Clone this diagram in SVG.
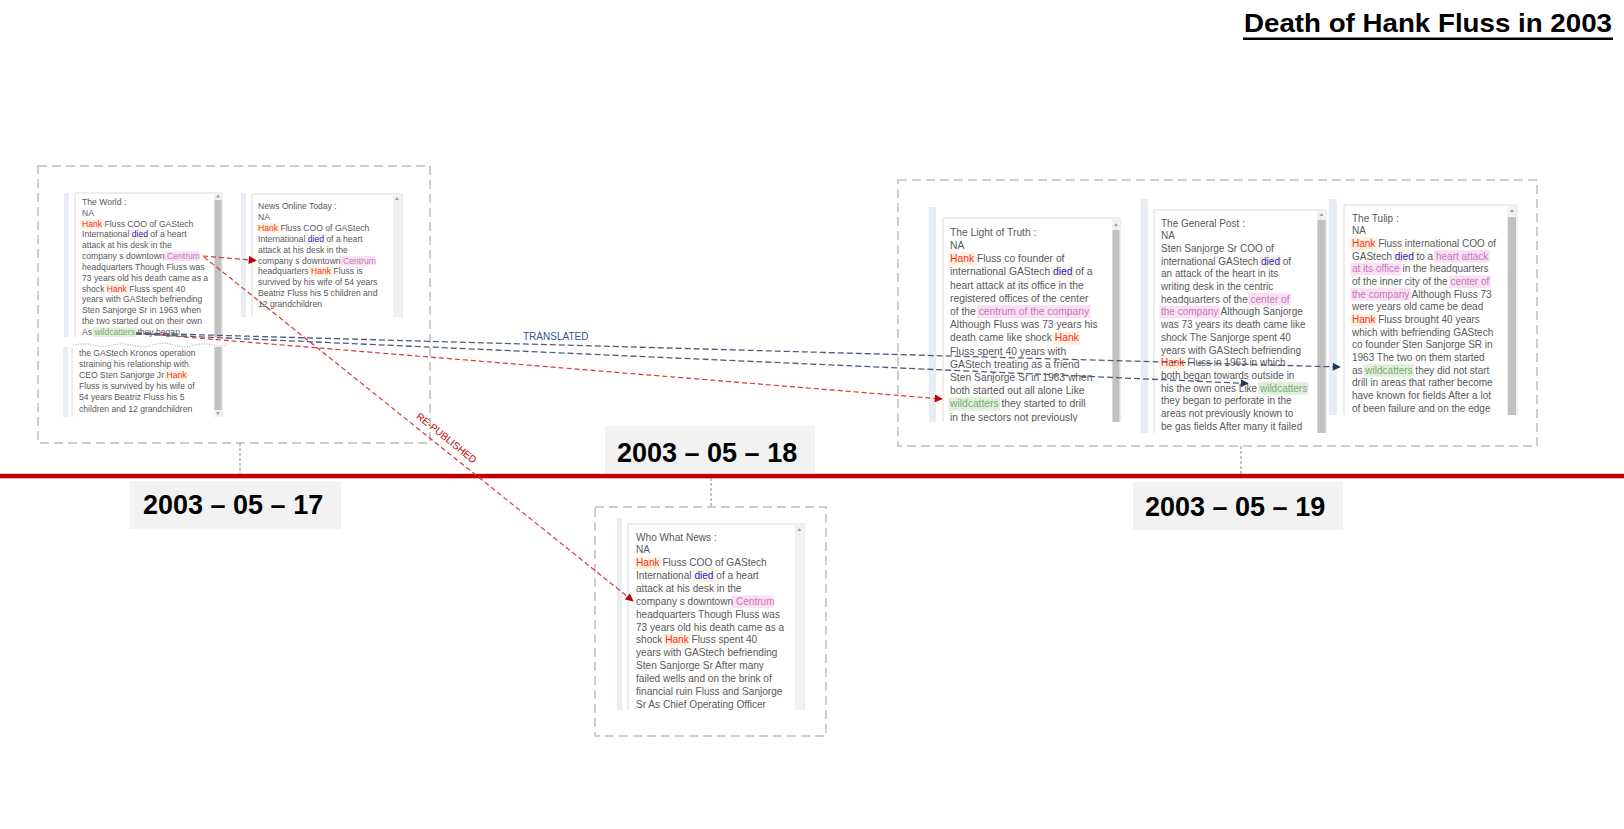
<svg xmlns="http://www.w3.org/2000/svg" width="1624" height="829" viewBox="0 0 1624 829">
<style>
.s{font-family:"Liberation Sans",Arial,sans-serif;fill:#595959}
.f8{font-size:8.6px}
.f10{font-size:10px}
.f101{font-size:10.1px}
.f103{font-size:10.3px}
.hk{fill:#ff2b1c}
.dd{fill:#2323e8}
.ce{fill:#c27cb6}
.wc{fill:#7caa74}
.bh{fill:#fdf2dc}
.bc{fill:#fbdff5}
.bw{fill:#e0efda}
.bar{fill:#e8edf4}
.pan{fill:#fff;stroke:#dadada;stroke-width:1}
.trk{fill:#f1f1f1}
.thm{fill:#c1c1c1}
.arw{fill:#a0a0a0}
.grp{fill:none;stroke:#bfbfbf;stroke-width:1.5;stroke-dasharray:9 5}
.stem{stroke:#8c8c8c;stroke-width:1;stroke-dasharray:3 2}
.dbox{fill:#f2f2f2}
.date{font-family:"Liberation Sans",Arial,sans-serif;font-weight:bold;font-size:27px;fill:#000}
.cr{fill:none;stroke:#d43a3a;stroke-width:1.2;stroke-dasharray:5 3}
.cb{fill:none;stroke:#4e5d7a;stroke-width:1.3;stroke-dasharray:6 3}
</style>
<defs>
<marker id="arR" viewBox="0 0 10 10" refX="9" refY="5" markerWidth="10" markerHeight="8" markerUnits="userSpaceOnUse" orient="auto"><path d="M0,0 L10,5 L0,10 z" fill="#c00000"/></marker>
<marker id="arB" viewBox="0 0 10 10" refX="9" refY="5" markerWidth="10" markerHeight="8" markerUnits="userSpaceOnUse" orient="auto"><path d="M0,0 L10,5 L0,10 z" fill="#1f3864"/></marker>
<clipPath id="cW1"><rect x="75" y="193" width="139" height="144"/></clipPath>
<clipPath id="cW2"><rect x="72" y="347" width="142" height="70"/></clipPath>
<clipPath id="cN"><rect x="252" y="194" width="141" height="123"/></clipPath>
<clipPath id="cM"><rect x="628" y="524" width="167" height="186"/></clipPath>
<clipPath id="cL"><rect x="943" y="218" width="169" height="204"/></clipPath>
<clipPath id="cG"><rect x="1154" y="210" width="163" height="223"/></clipPath>
<clipPath id="cT"><rect x="1344" y="205" width="163" height="210"/></clipPath>
</defs>
<rect width="1624" height="829" fill="#fff"/>

<g id="title">
<text x="1244" y="32" font-family="'Liberation Sans',Arial,sans-serif" font-weight="bold" font-size="26" fill="#000" textLength="368" lengthAdjust="spacingAndGlyphs">Death of Hank Fluss in 2003</text>
<rect x="1243" y="37.5" width="370" height="2.5" fill="#000"/>
</g>

<g id="group-frames">
<rect class="grp" x="38" y="166" width="392" height="277"/>
<rect class="grp" x="595" y="507" width="231" height="229"/>
<rect class="grp" x="898" y="180" width="639" height="266"/>
<line class="stem" x1="240" y1="443" x2="240" y2="474"/>
<line class="stem" x1="711" y1="478" x2="711" y2="507"/>
<line class="stem" x1="1241" y1="446" x2="1241" y2="474"/>
</g>

<g id="timeline">
<rect x="0" y="473.8" width="1624" height="4.5" fill="#c00000"/>
</g>

<g id="date-2003-05-17">
<rect class="dbox" x="130" y="481" width="211" height="48"/>
<text class="date" x="143" y="514">2003 – 05 – 17</text>
</g>
<g id="date-2003-05-18">
<rect class="dbox" x="605" y="426" width="210" height="47"/>
<text class="date" x="617" y="461.5">2003 – 05 – 18</text>
</g>
<g id="date-2003-05-19">
<rect class="dbox" x="1133" y="482" width="210" height="48"/>
<text class="date" x="1145" y="515.5">2003 – 05 – 19</text>
</g>

<g id="the-world">
<rect class="bar" x="64" y="193" width="5" height="144"/>
<path class="pan" d="M75,337 V193 H222 V337"/>
<rect class="trk" x="214" y="193" width="8" height="144"/>
<rect class="thm" x="214.5" y="200" width="7" height="137"/>
<path class="arw" d="M216,197.5 L218,194.5 L220,197.5 z"/>
<g clip-path="url(#cW1)">
<rect class="bh" x="80.5" y="219.2" width="23" height="9.5"/>
<rect class="bh" x="130.2" y="230" width="19.3" height="9.5"/>
<rect class="bc" x="163.2" y="251.6" width="36" height="9.5"/>
<rect class="bh" x="105.4" y="284.1" width="23" height="9.5"/>
<rect class="bw" x="92.9" y="327.5" width="43.6" height="9.5"/>
<g class="s f8">
<text x="82" y="205">The World :</text>
<text x="82" y="215.83">NA</text>
<text x="82" y="226.66"><tspan class="hk">Hank</tspan> Fluss COO of GAStech</text>
<text x="82" y="237.49">International <tspan class="dd">died</tspan> of a heart</text>
<text x="82" y="248.32">attack at his desk in the</text>
<text x="82" y="259.15">company s downtown <tspan class="ce">Centrum</tspan></text>
<text x="82" y="269.98">headquarters Though Fluss was</text>
<text x="82" y="280.81">73 years old his death came as a</text>
<text x="82" y="291.64">shock <tspan class="hk">Hank</tspan> Fluss spent 40</text>
<text x="82" y="302.47">years with GAStech befriending</text>
<text x="82" y="313.3">Sten Sanjorge Sr in 1963 when</text>
<text x="82" y="324.13">the two started out on their own</text>
<text x="82" y="334.96">As <tspan class="wc">wildcatters</tspan> they began</text>
</g>
</g>
<path d="M73,345.5 Q83,342.5 93,345 T113,345 T133,345.5 T153,345 T173,345 T193,345.5 T213,345 T228,344" fill="none" stroke="#9a9a9a" stroke-width="1" stroke-dasharray="1 1.5"/>
<rect class="bar" x="63" y="347" width="5" height="70"/>
<path class="pan" d="M72,417 V347 M222,347 V417"/>
<rect class="trk" x="214" y="347" width="8" height="70"/>
<rect class="thm" x="214.5" y="347" width="7" height="63"/>
<path class="arw" d="M216,412 L218,415 L220,412 z"/>
<g clip-path="url(#cW2)">
<rect class="bh" x="165" y="370.7" width="23" height="9.5"/>
<g class="s f8">
<text x="79" y="356">the GAStech Kronos operation</text>
<text x="79" y="367.1">straining his relationship with</text>
<text x="79" y="378.2">CEO Sten Sanjorge Jr <tspan class="hk">Hank</tspan></text>
<text x="79" y="389.3">Fluss is survived by his wife of</text>
<text x="79" y="400.4">54 years Beatriz Fluss his 5</text>
<text x="79" y="411.5">children and 12 grandchildren</text>
</g>
</g>
</g>

<g id="news-online-today">
<rect class="bar" x="241" y="193" width="5" height="124"/>
<path class="pan" d="M252,317 V194 H402 V317"/>
<rect class="trk" x="393" y="194.5" width="8.5" height="122.5"/>
<path class="arw" d="M395,200 L397,197 L399,200 z"/>
<g clip-path="url(#cN)">
<rect class="bh" x="256.5" y="223.3" width="23" height="9.5"/>
<rect class="bh" x="306.2" y="234.2" width="19.3" height="9.5"/>
<rect class="bc" x="339.2" y="256" width="36" height="9.5"/>
<rect class="bh" x="309.6" y="266.9" width="23" height="9.5"/>
<g class="s f8">
<text x="258" y="209">News Online Today :</text>
<text x="258" y="219.9">NA</text>
<text x="258" y="230.8"><tspan class="hk">Hank</tspan> Fluss COO of GAStech</text>
<text x="258" y="241.7">International <tspan class="dd">died</tspan> of a heart</text>
<text x="258" y="252.6">attack at his desk in the</text>
<text x="258" y="263.5">company s downtown <tspan class="ce">Centrum</tspan></text>
<text x="258" y="274.4">headquarters <tspan class="hk">Hank</tspan> Fluss is</text>
<text x="258" y="285.3">survived by his wife of 54 years</text>
<text x="258" y="296.2">Beatriz Fluss his 5 children and</text>
<text x="258" y="307.1">12 grandchildren</text>
</g>
</g>
</g>

<g id="who-what-news">
<rect class="bar" x="617" y="518" width="5" height="192"/>
<path class="pan" d="M628,710 V524 H804 V710"/>
<rect class="trk" x="795" y="524.5" width="8.5" height="185.5"/>
<path class="arw" d="M797.5,531 L799.5,528 L801.5,531 z"/>
<g clip-path="url(#cM)">
<rect class="bh" x="634.5" y="556.8" width="26.6" height="12.5"/>
<rect class="bh" x="692.9" y="569.65" width="22.1" height="12.5"/>
<rect class="bc" x="731.6" y="595.35" width="41.7" height="12.5"/>
<rect class="bh" x="663.7" y="633.9" width="26.6" height="12.5"/>
<g class="s f101">
<text x="636" y="540.6">Who What News :</text>
<text x="636" y="553.45">NA</text>
<text x="636" y="566.3"><tspan class="hk">Hank</tspan> Fluss COO of GAStech</text>
<text x="636" y="579.15">International <tspan class="dd">died</tspan> of a heart</text>
<text x="636" y="592">attack at his desk in the</text>
<text x="636" y="604.85">company s downtown <tspan class="ce">Centrum</tspan></text>
<text x="636" y="617.7">headquarters Though Fluss was</text>
<text x="636" y="630.55">73 years old his death came as a</text>
<text x="636" y="643.4">shock <tspan class="hk">Hank</tspan> Fluss spent 40</text>
<text x="636" y="656.25">years with GAStech befriending</text>
<text x="636" y="669.1">Sten Sanjorge Sr After many</text>
<text x="636" y="681.95">failed wells and on the brink of</text>
<text x="636" y="694.8">financial ruin Fluss and Sanjorge</text>
<text x="636" y="707.65">Sr As Chief Operating Officer</text>
</g>
</g>
</g>

<g id="the-light-of-truth">
<rect class="bar" x="929" y="207" width="7" height="215"/>
<path class="pan" d="M943,422 V218 H1120 V422"/>
<rect class="trk" x="1112" y="218.5" width="8" height="203.5"/>
<rect class="thm" x="1112.5" y="230" width="7" height="192"/>
<path class="arw" d="M1114,226 L1116,223 L1118,226 z"/>
<g clip-path="url(#cL)">
<rect class="bh" x="948.5" y="252.3" width="27" height="13"/>
<rect class="bh" x="1051.5" y="265.5" width="22.5" height="13"/>
<rect class="bc" x="977.1" y="305.1" width="113.5" height="13"/>
<rect class="bh" x="1053.3" y="331.5" width="27" height="13"/>
<rect class="bw" x="948.5" y="397.5" width="51.6" height="13"/>
<g class="s f103">
<text x="950" y="235.7">The Light of Truth :</text>
<text x="950" y="248.9">NA</text>
<text x="950" y="262.1"><tspan class="hk">Hank</tspan> Fluss co founder of</text>
<text x="950" y="275.3">international GAStech <tspan class="dd">died</tspan> of a</text>
<text x="950" y="288.5">heart attack at its office in the</text>
<text x="950" y="301.7">registered offices of the center</text>
<text x="950" y="314.9">of the <tspan class="ce">centrum of the company</tspan></text>
<text x="950" y="328.1">Although Fluss was 73 years his</text>
<text x="950" y="341.3">death came like shock <tspan class="hk">Hank</tspan></text>
<text x="950" y="354.5">Fluss spent 40 years with</text>
<text x="950" y="367.7">GAStech treating as a friend</text>
<text x="950" y="380.9">Sten Sanjorge Sr in 1963 when</text>
<text x="950" y="394.1">both started out all alone Like</text>
<text x="950" y="407.3"><tspan class="wc">wildcatters</tspan> they started to drill</text>
<text x="950" y="420.5">in the sectors not previously</text>
</g>
</g>
</g>

<g id="the-general-post">
<rect class="bar" x="1141" y="199" width="7" height="234"/>
<path class="pan" d="M1154,433 V210 H1326 V433"/>
<rect class="trk" x="1317" y="210.5" width="8.5" height="222.5"/>
<rect class="thm" x="1317.5" y="220" width="8" height="213"/>
<path class="arw" d="M1319.5,216 L1321.5,213 L1323.5,216 z"/>
<g clip-path="url(#cG)">
<rect class="bh" x="1259.5" y="255.2" width="21.9" height="12.5"/>
<rect class="bc" x="1249" y="293.2" width="41.9" height="12.5"/>
<rect class="bc" x="1159.5" y="305.9" width="60.3" height="12.5"/>
<rect class="bh" x="1159.5" y="356.7" width="26.3" height="12.5"/>
<rect class="bw" x="1258.4" y="382.1" width="50.2" height="12.5"/>
<g class="s f10">
<text x="1161" y="226.6">The General Post :</text>
<text x="1161" y="239.29">NA</text>
<text x="1161" y="251.98">Sten Sanjorge Sr COO of</text>
<text x="1161" y="264.67">international GAStech <tspan class="dd">died</tspan> of</text>
<text x="1161" y="277.36">an attack of the heart in its</text>
<text x="1161" y="290.05">writing desk in the centric</text>
<text x="1161" y="302.74">headquarters of the <tspan class="ce">center of</tspan></text>
<text x="1161" y="315.43"><tspan class="ce">the company</tspan> Although Sanjorge</text>
<text x="1161" y="328.12">was 73 years its death came like</text>
<text x="1161" y="340.81">shock The Sanjorge spent 40</text>
<text x="1161" y="353.5">years with GAStech befriending</text>
<text x="1161" y="366.19"><tspan class="hk">Hank</tspan> Fluss in 1963 in which</text>
<text x="1161" y="378.88">both began towards outside in</text>
<text x="1161" y="391.57">his the own ones Like <tspan class="wc">wildcatters</tspan></text>
<text x="1161" y="404.26">they began to perforate in the</text>
<text x="1161" y="416.95">areas not previously known to</text>
<text x="1161" y="429.64">be gas fields After many it failed</text>
</g>
</g>
</g>

<g id="the-tulip">
<rect class="bar" x="1329" y="199" width="8" height="216"/>
<path class="pan" d="M1344,415 V205 H1517 V415"/>
<rect class="trk" x="1507" y="205.5" width="9.5" height="209.5"/>
<rect class="thm" x="1508" y="217" width="8" height="198"/>
<path class="arw" d="M1510,212 L1512,209 L1514,212 z"/>
<g clip-path="url(#cT)">
<rect class="bh" x="1350.5" y="237.4" width="26.3" height="12.5"/>
<rect class="bh" x="1393.3" y="250.1" width="21.9" height="12.5"/>
<rect class="bc" x="1434.4" y="250.1" width="55.3" height="12.5"/>
<rect class="bc" x="1350.5" y="262.8" width="50.8" height="12.5"/>
<rect class="bc" x="1448.9" y="275.45" width="41.9" height="12.5"/>
<rect class="bc" x="1350.5" y="288.1" width="60.3" height="12.5"/>
<rect class="bh" x="1350.5" y="313.5" width="26.3" height="12.5"/>
<rect class="bw" x="1363.8" y="364.1" width="50.2" height="12.5"/>
<g class="s f10">
<text x="1352" y="221.6">The Tulip :</text>
<text x="1352" y="234.27">NA</text>
<text x="1352" y="246.94"><tspan class="hk">Hank</tspan> Fluss international COO of</text>
<text x="1352" y="259.61">GAStech <tspan class="dd">died</tspan> to a <tspan class="ce">heart attack</tspan></text>
<text x="1352" y="272.28"><tspan class="ce">at its office</tspan> in the headquarters</text>
<text x="1352" y="284.95">of the inner city of the <tspan class="ce">center of</tspan></text>
<text x="1352" y="297.62"><tspan class="ce">the company</tspan> Although Fluss 73</text>
<text x="1352" y="310.29">were years old came be dead</text>
<text x="1352" y="322.96"><tspan class="hk">Hank</tspan> Fluss brought 40 years</text>
<text x="1352" y="335.63">which with befriending GAStech</text>
<text x="1352" y="348.3">co founder Sten Sanjorge SR in</text>
<text x="1352" y="360.97">1963 The two on them started</text>
<text x="1352" y="373.64">as <tspan class="wc">wildcatters</tspan> they did not start</text>
<text x="1352" y="386.31">drill in areas that rather become</text>
<text x="1352" y="398.98">have known for fields After a lot</text>
<text x="1352" y="411.65">of been failure and on the edge</text>
</g>
</g>
</g>

<g id="connectors">
<path class="cr" d="M203,256 L256,260.5" marker-end="url(#arR)"/>
<path class="cr" d="M204,257 L633,601" marker-end="url(#arR)"/>
<path class="cr" d="M136,333 L942,399" marker-end="url(#arR)"/>
<path class="cb" d="M136,333 L1340,367" marker-end="url(#arB)"/>
<path class="cb" d="M136,334 L1248,383.5" marker-end="url(#arB)"/>
<text x="523" y="339.5" font-family="'Liberation Sans',Arial,sans-serif" font-size="10" fill="#2f5597">TRANSLATED</text>
<text transform="translate(440,446) rotate(38.8)" x="0" y="-7" text-anchor="middle" font-family="'Liberation Sans',Arial,sans-serif" font-size="10" fill="#c00000">RE-PUBLISHED</text>
</g>
</svg>
